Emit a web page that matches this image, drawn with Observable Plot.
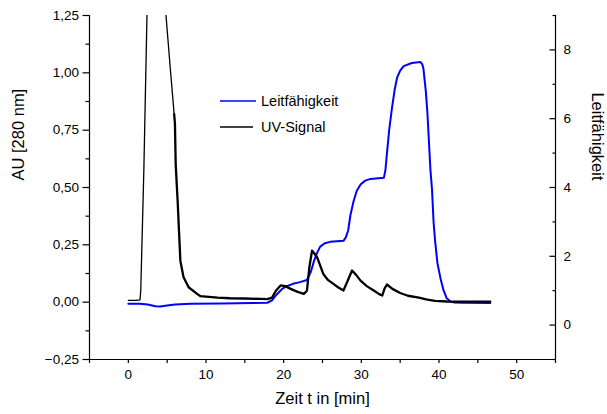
<!DOCTYPE html>
<html><head><meta charset="utf-8">
<script src="https://cdn.jsdelivr.net/npm/d3@7"></script>
<script src="https://cdn.jsdelivr.net/npm/@observablehq/plot@0.6"></script>
<style>body{margin:0;background:#fff}#chart{width:607px;height:414px}</style>
</head><body><div id="chart"></div>
<script>
// UV-Signal (AU at 280 nm) vs time (min)
const uvTime = [0,1.0,1.5,1.6,2.0,2.4,2.8,3.4,4.2,4.85,5.4,5.9,6.0,6.1,6.35,6.7,7.1,7.76,8.85,9.3,10,11.5,13.1,15,17,17.9,18.5,19.0,19.6,20.2,20.9,21.8,22.6,23.0,23.3,23.65,24.0,24.3,25.1,25.7,26.4,27.0,27.7,28.2,28.8,29.3,29.9,30.7,31.6,32.3,32.7,33.0,33.3,34.0,35.0,36.0,37.4,38.5,39.5,41.0,43.0,46.6];
const uvValue = [0.008,0.008,0.01,0.05,0.58,1.25,1.75,1.8,1.52,1.25,1.02,0.82,0.78,0.60,0.44,0.18,0.11,0.065,0.036,0.026,0.024,0.02,0.017,0.016,0.014,0.013,0.02,0.05,0.073,0.07,0.058,0.045,0.036,0.05,0.15,0.225,0.21,0.196,0.123,0.097,0.08,0.065,0.051,0.09,0.138,0.12,0.094,0.07,0.051,0.035,0.029,0.06,0.077,0.058,0.04,0.028,0.02,0.011,0.006,0.003,0.002,0.002];
// Leitfähigkeit vs time (min)
const condTime = [0,1.5,2.5,3.5,4.1,5.0,6.0,8,12,16,17.9,18.5,19.1,19.8,20.4,21.2,22.1,23.0,23.5,23.9,24.3,24.7,25.3,26.0,27.7,28.0,28.3,28.6,29.0,29.4,29.9,30.5,31.2,32.9,33.1,33.3,33.6,33.95,34.3,34.6,35.0,35.45,36.5,37.6,37.85,38.0,38.3,38.5,38.9,39.1,39.3,39.5,39.8,40.2,40.6,41.0,41.5,41.9,43,46.6];
const condValue = [0.62,0.62,0.6,0.55,0.54,0.57,0.6,0.62,0.63,0.64,0.65,0.72,0.89,1.05,1.13,1.2,1.25,1.31,1.55,1.86,2.1,2.28,2.38,2.42,2.45,2.55,2.75,3.2,3.6,3.9,4.09,4.2,4.25,4.28,4.5,5.0,5.7,6.32,6.85,7.19,7.4,7.53,7.62,7.65,7.58,7.45,6.8,6.2,4.5,3.95,3.0,2.44,1.8,1.35,1.0,0.78,0.68,0.66,0.65,0.64];

const xTicks = [0,10,20,30,40,50];
const xMinor = [-5,5,15,25,35,45,55];
const leftTicks = [-0.25,0,0.25,0.5,0.75,1.0,1.25];
const leftMinor = [-0.125,0.125,0.375,0.625,0.875,1.125];
const rightTicks = [0,2,4,6,8];
const rightMinor = [-1,1,3,5,7,9];
const seriesNames = ["Leitfähigkeit","UV-Signal"];
const seriesColors = ["#0000ff","#000000"];
const xLabel = "Zeit t in [min]";
const yLabel = "AU [280 nm]";
const y2Label = "Leitfähigkeit";

const xDomain = [-5,55], yDomain = [-0.25,1.25], y2Domain = [-1,9];
const toAU = L => yDomain[0] + (L - y2Domain[0]) / (y2Domain[1]-y2Domain[0]) * (yDomain[1]-yDomain[0]);
const fromAU = v => y2Domain[0] + (v - yDomain[0]) / (yDomain[1]-yDomain[0]) * (y2Domain[1]-y2Domain[0]);

const uv = uvTime.map((t,i)=>({t, v: uvValue[i]}));
const cond = condTime.map((t,i)=>({t, v: toAU(condValue[i])}));
const fmtComma = d => d3.format(".2f")(d).replace(".", ",");
const font = "'Liberation Sans', Arial, sans-serif";

const chart = Plot.plot({
  width: 607, height: 414,
  marginLeft: 89, marginRight: 52, marginTop: 15, marginBottom: 55,
  style: {fontFamily: font, background: "#fff", color: "#000"},
  x: {domain: xDomain},
  y: {domain: yDomain},
  marks: [
    Plot.line(cond, {x: "t", y: "v", stroke: seriesColors[0], strokeWidth: 2, clip: true}),
    Plot.line(uv.filter(d => d.t <= 5.9), {x: "t", y: "v", stroke: seriesColors[1], strokeWidth: 1.3, clip: true}),
    Plot.line(uv.filter(d => d.t >= 5.9), {x: "t", y: "v", stroke: seriesColors[1], strokeWidth: 2.3, clip: true}),
    Plot.ruleX([xDomain[0]], {stroke: "#000", strokeWidth: 1.2}),
    Plot.ruleX([xDomain[1]], {stroke: "#000", strokeWidth: 1.2}),
    Plot.ruleY([yDomain[0]], {stroke: "#000", strokeWidth: 1.2}),
    Plot.axisY({ticks: leftTicks, tickFormat: fmtComma, tickSize: 6.5, tickPadding: 4, fontSize: 13.5, label: null, strokeWidth: 1.2}),
    Plot.axisY({ticks: leftMinor, tickFormat: () => "", tickSize: 3.5, label: null, strokeWidth: 1.2}),
    Plot.axisY({anchor: "right", ticks: rightTicks.map(toAU), tickFormat: v => String(Math.round(fromAU(v))), tickSize: -6.5, tickPadding: 14.5, fontSize: 13.5, label: null, strokeWidth: 1.2}),
    Plot.axisY({anchor: "right", ticks: rightMinor.map(toAU), tickFormat: () => "", tickSize: -3.5, label: null, strokeWidth: 1.2}),
    Plot.axisX({ticks: xTicks, tickSize: 4, tickPadding: 6, fontSize: 13.5, label: null, strokeWidth: 1.2}),
    Plot.axisX({ticks: xMinor, tickFormat: () => "", tickSize: 4, label: null, strokeWidth: 1.2}),
    Plot.text([yLabel], {text: d => d, frameAnchor: "left", dx: -71, dy: -7, rotate: -90, fontSize: 16.5}),
    Plot.text([y2Label], {text: d => d, frameAnchor: "right", dx: 42, dy: -7, rotate: 90, fontSize: 16.5}),
    Plot.text([xLabel], {text: d => d, frameAnchor: "bottom", dy: 44, fontSize: 16.5})
  ]
});
document.getElementById("chart").appendChild(chart);

// legend inside plot area
const svg = d3.select(chart);
const lg = svg.append("g").attr("font-family", font).attr("font-size", 14.5).attr("text-anchor", "start");
const legendRows = [{y: 101, x2: 256}, {y: 127, x2: 253}];
seriesNames.forEach((name, i) => {
  lg.append("line").attr("x1", 220).attr("x2", legendRows[i].x2)
    .attr("y1", legendRows[i].y).attr("y2", legendRows[i].y)
    .attr("stroke", seriesColors[i]).attr("stroke-width", 1.6);
  lg.append("text").attr("x", 261).attr("y", legendRows[i].y).attr("dy", "0.35em")
    .attr("text-anchor", "start").attr("fill", "#000").text(name);
});
</script>
</body></html>
